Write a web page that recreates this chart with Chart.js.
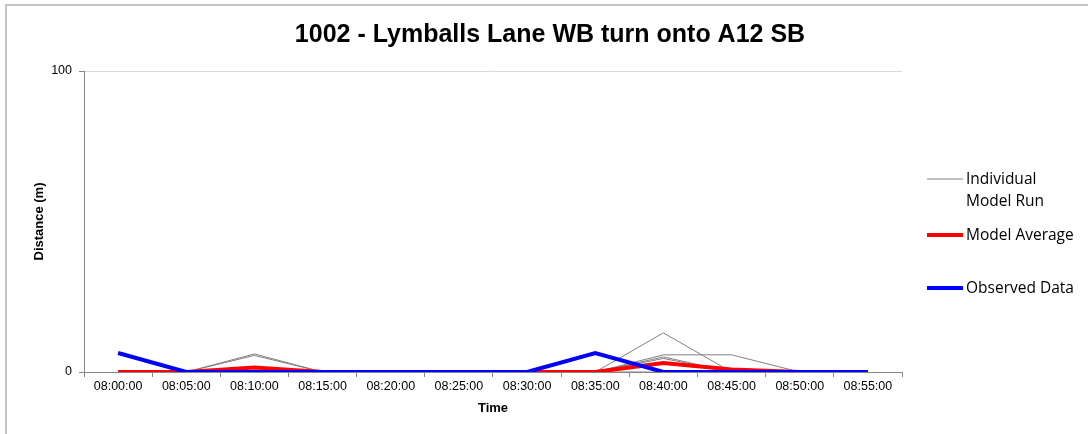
<!DOCTYPE html>
<html>
<head>
<meta charset="utf-8">
<script src="https://cdn.jsdelivr.net/npm/chart.js@4/dist/chart.umd.min.js"></script>
<style>
  body { margin: 0; background: #ffffff; }
  canvas { display: block; }
</style>
</head>
<body>
<canvas id="queueChart" width="1088" height="434"></canvas>
<script>
var times = ["08:00:00", "08:05:00", "08:10:00", "08:15:00", "08:20:00", "08:25:00",
             "08:30:00", "08:35:00", "08:40:00", "08:45:00", "08:50:00", "08:55:00"];

var run1 = [0, 0, 6, 0, 0, 0, 0, 0, 13, 0, 0, 0];
var run2 = [0, 0, 5.5, 0, 0, 0, 0, 0, 5.7, 5.7, 0, 0];
var run3 = [0, 0, 0, 0, 0, 0, 0, 0, 5, 0, 0, 0];
var run4 = [0, 0, 0, 0, 0, 0, 0, 0, 4.5, 0, 0, 0];
var run5 = [0, 0, 0, 0, 0, 0, 0, 0, 0, 0, 0, 0];
var modelAverage = [0, 0, 1.5, 0, 0, 0, 0, 0, 3, 0.8, 0, 0];
var observed = [6.3, 0, 0, 0, 0, 0, 0, 6.3, 0, 0, 0, 0];

var yTicks = [0, 100];

var chartTitle = "1002 - Lymballs Lane WB turn onto A12 SB";

function runDataset(values) {
    return {
        label: "Individual Model Run",
        data: values,
        borderColor: "#808080",
        borderWidth: 1,
        pointRadius: 0,
        tension: 0,
        order: 2
    };
}

// frame, title and legend drawn by hand (Excel style)
var decorations = {
    id: "decorations",
    beforeDraw: function (chart) {
        var ctx = chart.ctx;
        ctx.save();
        ctx.strokeStyle = "#c4c4c4";
        ctx.lineWidth = 2;
        ctx.beginPath();
        ctx.moveTo(6, 434);
        ctx.lineTo(6, 5);
        ctx.lineTo(1088, 5);
        ctx.stroke();
        ctx.restore();
    },
    afterDraw: function (chart) {
        var ctx = chart.ctx;
        ctx.save();
        ctx.fillStyle = "#000000";
        ctx.font = "bold 25px 'Liberation Sans', Arial, sans-serif";
        ctx.textAlign = "center";
        ctx.textBaseline = "middle";
        ctx.fillText(chartTitle, 550, 35);

        var items = [
            { lines: ["Individual", "Model Run"], color: "#808080", width: 1, y: 179 },
            { lines: ["Model Average"], color: "#ff0000", width: 4, y: 235 },
            { lines: ["Observed Data"], color: "#0000ff", width: 4, y: 288 }
        ];
        ctx.font = "15.5px 'Open Sans', sans-serif";
        ctx.textAlign = "left";
        items.forEach(function (item) {
            ctx.strokeStyle = item.color;
            ctx.lineWidth = item.width;
            ctx.beginPath();
            ctx.moveTo(927, item.y);
            ctx.lineTo(963, item.y);
            ctx.stroke();
            item.lines.forEach(function (line, i) {
                ctx.fillText(line, 966, item.y + 1 + i * 22);
            });
        });
        ctx.restore();
    }
};

var chartData = {
    labels: times,
    datasets: [
        {
            label: "Observed Data",
            data: observed,
            borderColor: "#0000ff",
            borderWidth: 4,
            pointRadius: 0,
            tension: 0,
            order: 0
        },
        {
            label: "Model Average",
            data: modelAverage,
            borderColor: "#ff0000",
            borderWidth: 4,
            pointRadius: 0,
            tension: 0,
            order: 1
        },
        runDataset(run1),
        runDataset(run2),
        runDataset(run3),
        runDataset(run4),
        runDataset(run5)
    ]
};

var options = {
    responsive: false,
    animation: false,
    devicePixelRatio: 1,
    layout: {
        padding: { left: 28, top: 71, right: 186, bottom: 14 }
    },
    plugins: {
        legend: { display: false },
        title: { display: false },
        tooltip: { enabled: false }
    },
    scales: {
        x: {
            offset: true,
            afterFit: function (scale) { scale.height = 48; },
            border: { color: "#868686", width: 1 },
            grid: { offset: true, drawOnChartArea: false, tickLength: 5, color: "#868686" },
            ticks: {
                color: "#000000",
                padding: 2,
                maxRotation: 0,
                autoSkip: false,
                font: { family: "'Liberation Sans', Arial, sans-serif", size: 12.5 }
            },
            title: {
                display: true,
                text: "Time",
                color: "#000000",
                padding: 4,
                font: { family: "'Liberation Sans', Arial, sans-serif", size: 13, weight: "bold" }
            }
        },
        y: {
            min: 0,
            max: 100,
            afterFit: function (scale) { scale.width = 56; },
            afterBuildTicks: function (scale) {
                scale.ticks = yTicks.map(function (v) { return { value: v }; });
            },
            border: { color: "#868686", width: 1 },
            grid: {
                color: function (c) { return c.tick && c.tick.value === 0 ? "#868686" : "#d9d9d9"; },
                tickColor: "#868686",
                tickLength: 5
            },
            ticks: {
                color: "#000000",
                padding: 7,
                font: { family: "'Liberation Sans', Arial, sans-serif", size: 12.5 }
            },
            title: {
                display: true,
                text: "Distance (m)",
                color: "#000000",
                padding: 4,
                font: { family: "'Liberation Sans', Arial, sans-serif", size: 13, weight: "bold" }
            }
        }
    }
};

var queueChart = new Chart(document.getElementById("queueChart"), {
    type: "line",
    data: chartData,
    options: options,
    plugins: [decorations]
});
</script>
</body>
</html>
